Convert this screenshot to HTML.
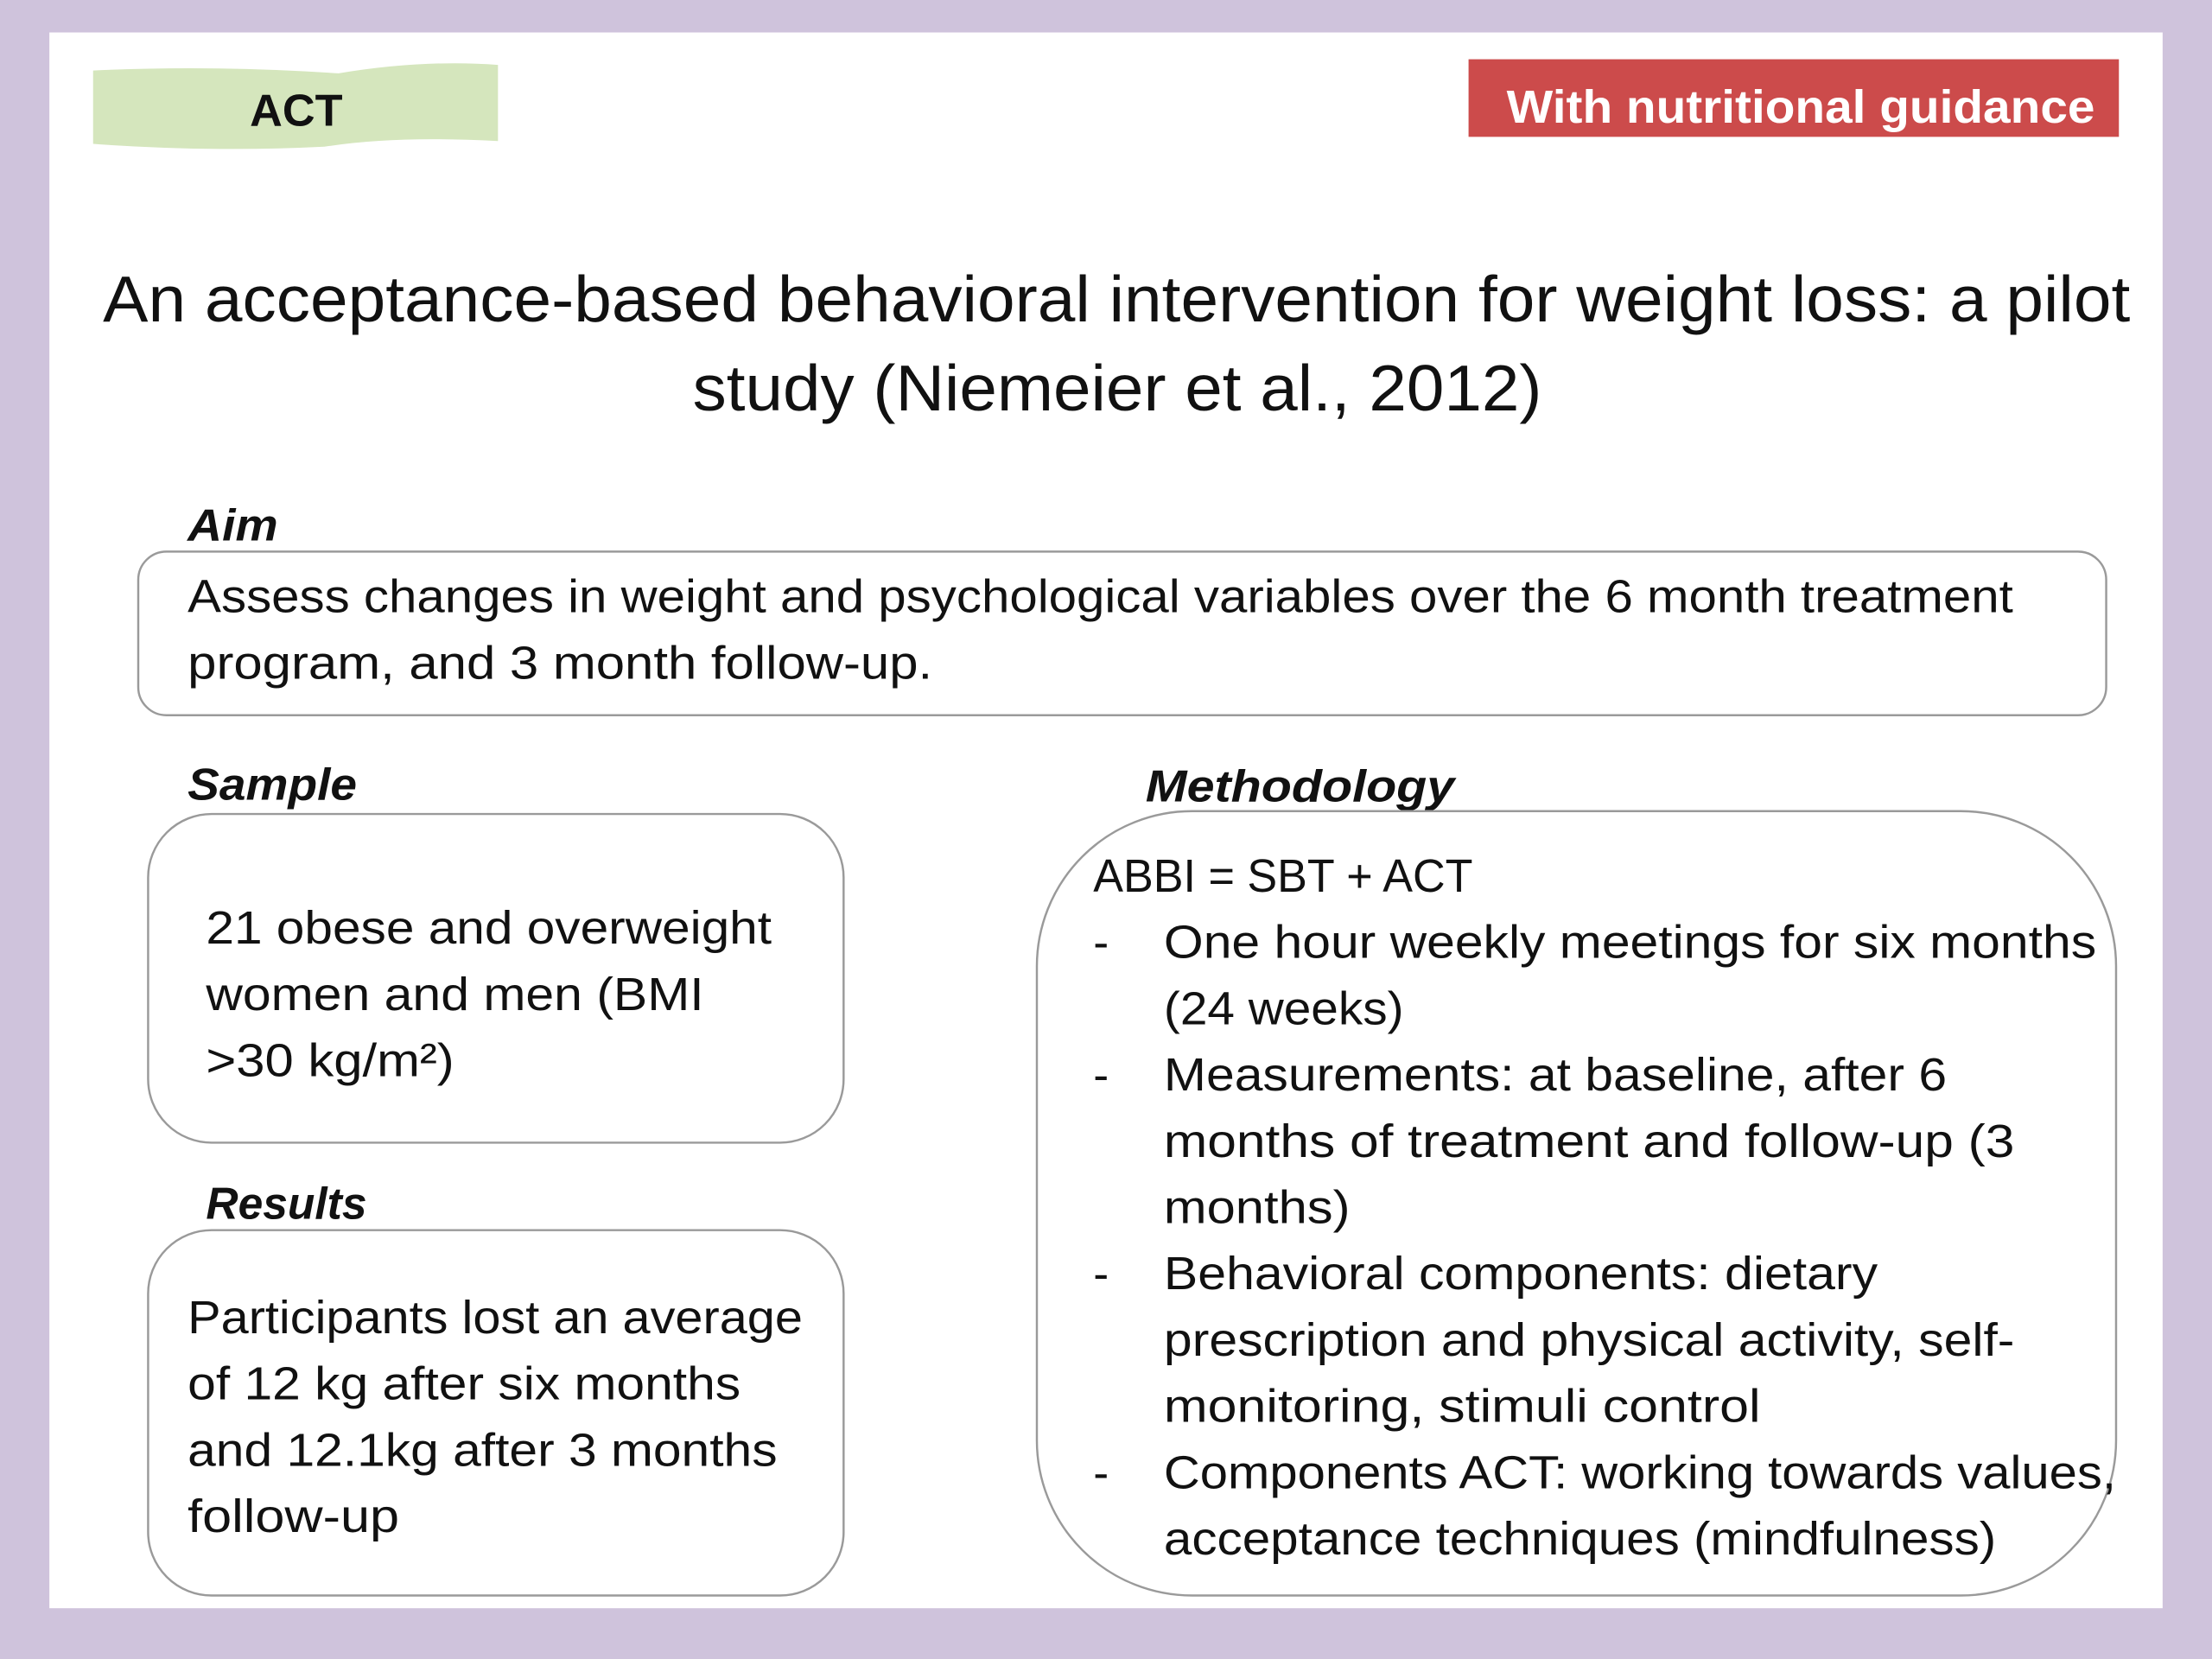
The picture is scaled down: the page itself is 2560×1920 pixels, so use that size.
<!DOCTYPE html>
<html>
<head>
<meta charset="utf-8">
<style>
html,body{margin:0;padding:0;background:#cfc3dc;}
svg{display:block;}
text{font-family:"Liberation Sans",sans-serif;fill:#111;}
.b{font-weight:bold;}
.bi{font-weight:bold;font-style:italic;}
.body{font-size:33px;}
</style>
</head>
<body>
<svg width="2560" height="1920" viewBox="0 0 1568 1176" xmlns="http://www.w3.org/2000/svg">
  <rect x="0" y="0" width="1568" height="1176" fill="#cfc3dc"/>
  <rect x="35" y="23" width="1498" height="1117" fill="#ffffff"/>

  <g>
    <path d="M66 50 Q150 46 240 52 Q300 42 353 46 L353 100 Q280 96 230 104 Q150 108 66 102 Z" fill="#d5e6bd"/>
    <text class="b" x="210" y="89" font-size="32" text-anchor="middle">ACT</text>
  </g>

  <g>
    <rect x="1041" y="42" width="461" height="55" fill="#cc4b4b"/>
    <text class="b" x="1068" y="87" font-size="33" textLength="417" lengthAdjust="spacingAndGlyphs" style="fill:#fff">With nutritional guidance</text>
  </g>

  <g>
    <text x="73" y="228" font-size="46" textLength="1437" lengthAdjust="spacingAndGlyphs">An acceptance-based behavioral intervention for weight loss: a pilot</text>
    <text x="491" y="291" font-size="46" textLength="602" lengthAdjust="spacingAndGlyphs">study (Niemeier et al., 2012)</text>
  </g>

  <text class="bi" x="133" y="383" font-size="32" textLength="64" lengthAdjust="spacingAndGlyphs">Aim</text>
  <g>
    <rect x="98" y="391" width="1395" height="116" rx="20" fill="#fff" stroke="#9a9a9a" stroke-width="1.5"/>
    <text class="body" x="133" y="434" textLength="1294" lengthAdjust="spacingAndGlyphs">Assess changes in weight and psychological variables over the 6 month treatment</text>
    <text class="body" x="133" y="481" textLength="528" lengthAdjust="spacingAndGlyphs">program, and 3 month follow-up.</text>
  </g>

  <text class="bi" x="133" y="567" font-size="32" textLength="120" lengthAdjust="spacingAndGlyphs">Sample</text>
  <g>
    <rect x="105" y="577" width="493" height="233" rx="45" fill="#fff" stroke="#9a9a9a" stroke-width="1.5"/>
    <text class="body" x="146" y="669" textLength="401" lengthAdjust="spacingAndGlyphs">21 obese and overweight</text>
    <text class="body" x="146" y="716" textLength="353" lengthAdjust="spacingAndGlyphs">women and men (BMI</text>
    <text class="body" x="146" y="763" textLength="176" lengthAdjust="spacingAndGlyphs">&gt;30 kg/m²)</text>
  </g>

  <text class="bi" x="146" y="864" font-size="32" textLength="114" lengthAdjust="spacingAndGlyphs">Results</text>
  <g>
    <rect x="105" y="872" width="493" height="259" rx="45" fill="#fff" stroke="#9a9a9a" stroke-width="1.5"/>
    <text class="body" x="133" y="945" textLength="436" lengthAdjust="spacingAndGlyphs">Participants lost an average</text>
    <text class="body" x="133" y="992" textLength="392" lengthAdjust="spacingAndGlyphs">of 12 kg after six months</text>
    <text class="body" x="133" y="1039" textLength="418" lengthAdjust="spacingAndGlyphs">and 12.1kg after 3 months</text>
    <text class="body" x="133" y="1086" textLength="150" lengthAdjust="spacingAndGlyphs">follow-up</text>
  </g>

  <text class="bi" x="812" y="568" font-size="32" textLength="219" lengthAdjust="spacingAndGlyphs">Methodology</text>
  <g>
    <rect x="735" y="575" width="765" height="556" rx="110" fill="#fff" stroke="#9a9a9a" stroke-width="1.5"/>
    <text class="body" x="775" y="632" textLength="269" lengthAdjust="spacingAndGlyphs">ABBI = SBT + ACT</text>
    <text class="body" x="775" y="679">-</text>
    <text class="body" x="825" y="679" textLength="661" lengthAdjust="spacingAndGlyphs">One hour weekly meetings for six months</text>
    <text class="body" x="825" y="726" textLength="170" lengthAdjust="spacingAndGlyphs">(24 weeks)</text>
    <text class="body" x="775" y="773">-</text>
    <text class="body" x="825" y="773" textLength="555" lengthAdjust="spacingAndGlyphs">Measurements: at baseline, after 6</text>
    <text class="body" x="825" y="820" textLength="603" lengthAdjust="spacingAndGlyphs">months of treatment and follow-up (3</text>
    <text class="body" x="825" y="867" textLength="132" lengthAdjust="spacingAndGlyphs">months)</text>
    <text class="body" x="775" y="914">-</text>
    <text class="body" x="825" y="914" textLength="506" lengthAdjust="spacingAndGlyphs">Behavioral components: dietary</text>
    <text class="body" x="825" y="961" textLength="603" lengthAdjust="spacingAndGlyphs">prescription and physical activity, self-</text>
    <text class="body" x="825" y="1008" textLength="423" lengthAdjust="spacingAndGlyphs">monitoring, stimuli control</text>
    <text class="body" x="775" y="1055">-</text>
    <text class="body" x="825" y="1055" textLength="675" lengthAdjust="spacingAndGlyphs">Components ACT: working towards values,</text>
    <text class="body" x="825" y="1102" textLength="590" lengthAdjust="spacingAndGlyphs">acceptance techniques (mindfulness)</text>
  </g>
</svg>
</body>
</html>
